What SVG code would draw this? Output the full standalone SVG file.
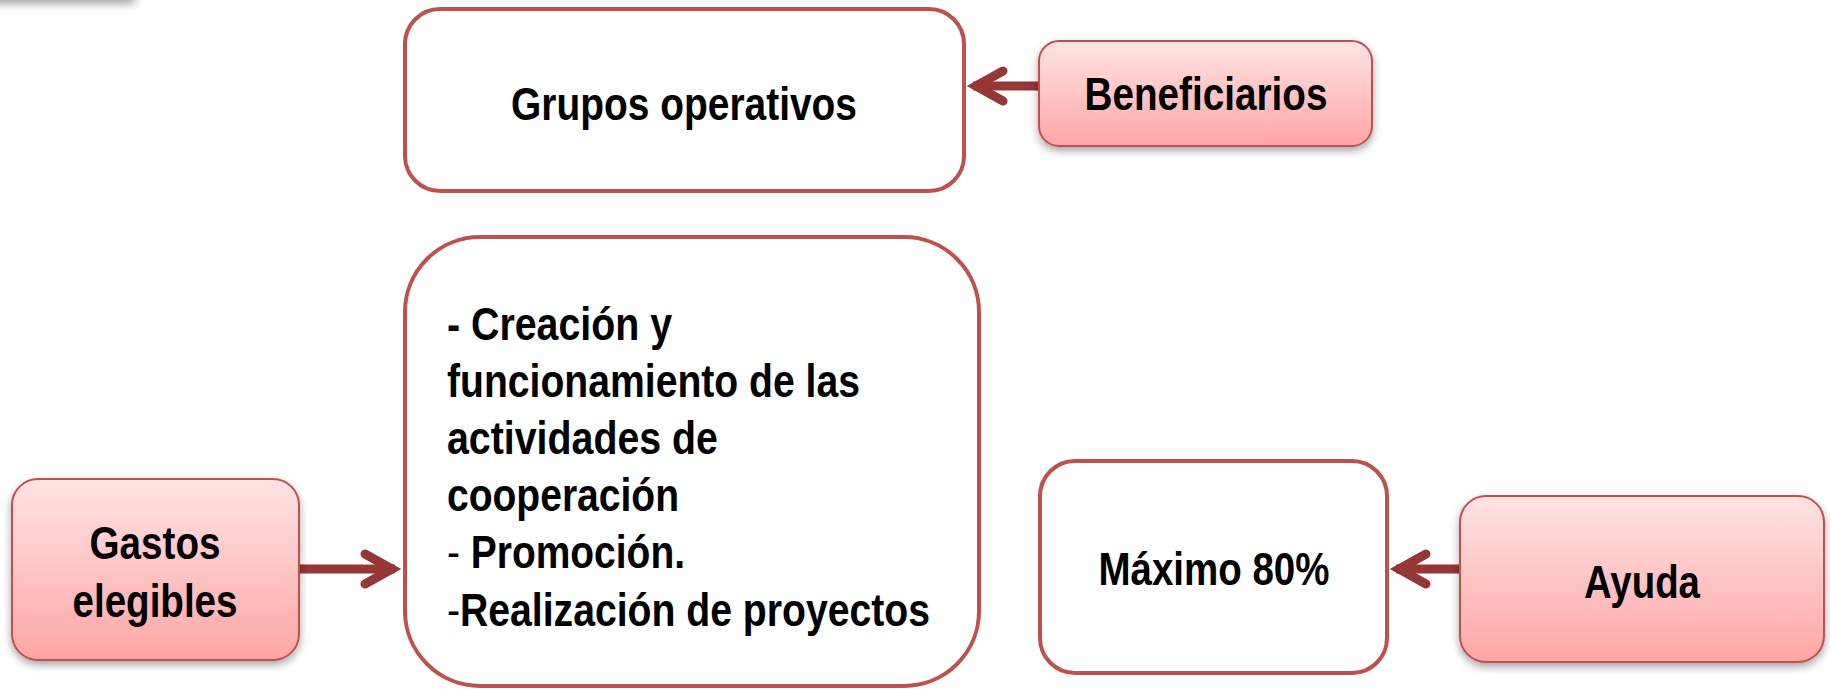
<svg xmlns="http://www.w3.org/2000/svg" width="1831" height="689" viewBox="0 0 1831 689">
<style>
.box{fill:#fff;stroke:#C0504D;stroke-width:4}
.pink{fill:url(#pg);stroke:#C0504D;stroke-width:2;filter:url(#sh)}
.t{font-family:"Liberation Sans",Arial,sans-serif;font-weight:700;font-size:46px;fill:#000}
.c{text-anchor:middle}
.n{font-weight:400}
.conn{fill:none;stroke:#953735;stroke-width:9;marker-end:url(#ah)}
</style>
<defs>
<linearGradient id="pg" x1="0" y1="0" x2="0" y2="1">
<stop offset="0" stop-color="#FFE3E3"/>
<stop offset="1" stop-color="#FFA6A6"/>
</linearGradient>
<filter id="sh" x="-10%" y="-10%" width="120%" height="135%">
<feDropShadow dx="0" dy="4" stdDeviation="4" flood-color="#000" flood-opacity="0.35"/>
</filter>
<marker id="ah" markerUnits="userSpaceOnUse" orient="auto" overflow="visible" markerWidth="1" markerHeight="1" refX="0" refY="0">
<path d="M-30,-15 L-3,0 L-30,15" fill="none" stroke="#953735" stroke-width="9" stroke-linecap="round" stroke-linejoin="miter"/>
</marker>
</defs>
<rect x="0" y="0" width="1831" height="689" fill="#fff"/>
<rect x="-20" y="-40" width="155" height="40" fill="#fff" filter="url(#sh)"/>

<g id="connectors">
<path class="conn" d="M1039,86 H973"/>
<path class="conn" d="M299,569 H395"/>
<path class="conn" d="M1460,569 H1396"/>
</g>

<g id="grupos">
<rect class="box" x="405" y="9" width="559" height="182" rx="35"/>
<text class="t c" x="684" y="120" textLength="346" lengthAdjust="spacingAndGlyphs">Grupos operativos</text>
</g>

<g id="beneficiarios">
<rect class="pink" x="1039" y="41" width="333" height="105" rx="20"/>
<text class="t c" x="1206" y="110" textLength="243" lengthAdjust="spacingAndGlyphs">Beneficiarios</text>
</g>

<g id="gastos">
<rect class="pink" x="12" y="479" width="287" height="181" rx="26"/>
<text class="t c" x="155" y="559" textLength="131" lengthAdjust="spacingAndGlyphs">Gastos</text>
<text class="t c" x="155" y="617" textLength="165" lengthAdjust="spacingAndGlyphs">elegibles</text>
</g>

<g id="actividades">
<rect class="box" x="405" y="237" width="574" height="449" rx="75"/>
<text class="t" x="447" y="340" textLength="225" lengthAdjust="spacingAndGlyphs">- Creación y</text>
<text class="t" x="447" y="397" textLength="413" lengthAdjust="spacingAndGlyphs">funcionamiento de las</text>
<text class="t" x="447" y="454" textLength="271" lengthAdjust="spacingAndGlyphs">actividades de</text>
<text class="t" x="447" y="511" textLength="232" lengthAdjust="spacingAndGlyphs">cooperación</text>
<text class="t" x="447" y="568" textLength="238" lengthAdjust="spacingAndGlyphs"><tspan class="n">-</tspan> Promoción.</text>
<text class="t" x="447" y="626" textLength="483" lengthAdjust="spacingAndGlyphs"><tspan class="n">-</tspan>Realización de proyectos</text>
</g>

<g id="maximo">
<rect class="box" x="1040" y="461" width="347" height="212" rx="35"/>
<text class="t c" x="1214" y="585" textLength="231" lengthAdjust="spacingAndGlyphs">Máximo 80%</text>
</g>

<g id="ayuda">
<rect class="pink" x="1460" y="496" width="364" height="166" rx="26"/>
<text class="t c" x="1642" y="598" textLength="116" lengthAdjust="spacingAndGlyphs">Ayuda</text>
</g>
</svg>
